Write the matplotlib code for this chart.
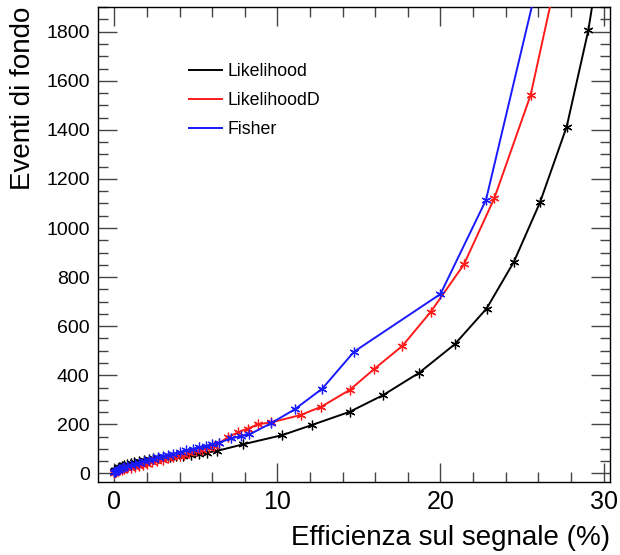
import matplotlib
matplotlib.use("Agg")
import matplotlib.pyplot as plt
from matplotlib.lines import Line2D
from matplotlib.ticker import MultipleLocator

# signal efficiency (%) vs background events
lik_eff = [0.0, 0.05, 0.1, 0.2, 0.3, 0.45, 0.6, 0.8, 1.0, 1.23, 1.5, 1.8, 2.1, 2.35, 2.7,
           3.0, 3.4, 3.8, 4.2, 4.71, 5.2, 5.7, 6.31, 7.92, 10.3, 12.1, 14.43, 16.48,
           18.69, 20.87, 22.83, 24.5, 26.1, 27.74, 29.07, 30.0]
lik_bkg = [8, 12, 16, 21, 26, 31, 35, 39, 43, 47, 51, 55, 58, 61, 63,
           65, 67, 70, 72, 75, 79, 85, 92, 119, 156, 197, 251, 319,
           410, 526, 672, 862, 1104, 1413, 1807, 2200]

likd_eff = [0.0, 0.05, 0.1, 0.2, 0.3, 0.45, 0.6, 0.8, 1.0, 1.25, 1.5, 1.75, 2.0, 2.3, 2.6,
            3.0, 3.3, 3.6, 4.0, 4.3, 4.6, 5.0, 5.4, 5.8, 6.1, 6.4, 7.0, 7.57, 8.19,
            8.8, 9.62, 11.43, 12.7, 14.45, 15.91, 17.67, 19.41, 21.44, 23.3, 25.53, 27.6]
likd_bkg = [2, 4, 6, 9, 12, 15, 18, 21, 24, 28, 32, 36, 40, 45, 50,
            56, 61, 66, 72, 77, 83, 90, 97, 105, 112, 122, 149, 167, 183,
            200, 208, 238, 272, 341, 424, 520, 659, 852, 1121, 1542, 2170]

fis_eff = [0.0, 0.05, 0.1, 0.2, 0.3, 0.45, 0.6, 0.8, 1.0, 1.25, 1.5, 1.8, 2.1, 2.4, 2.7,
           3.0, 3.3, 3.6, 4.0, 4.4, 4.8, 5.2, 5.6, 6.0, 6.45, 7.17, 7.78, 8.29, 9.6,
           11.06, 12.76, 14.7, 20.0, 22.79, 26.0]
fis_bkg = [4, 7, 10, 14, 18, 22, 26, 30, 34, 39, 44, 50, 55, 60, 65,
           70, 75, 80, 87, 94, 100, 106, 112, 119, 126, 143, 152, 159, 204,
           261, 346, 496, 731, 1114, 2014]

SERIES = [
    ("Likelihood", lik_eff, lik_bkg, "black"),
    ("LikelihoodD", likd_eff, likd_bkg, "#ff1a1a"),
    ("Fisher", fis_eff, fis_bkg, "#1a1aff"),
]


def main() -> None:
    plt.rcParams.update({"font.family": ["Liberation Sans", "DejaVu Sans"]})
    fig = plt.figure(figsize=(6.2, 5.55), dpi=100)
    ax = fig.add_axes([0.158, 0.1315, 0.826, 0.8565])

    handles = []
    for name, xs, ys, color in SERIES:
        ax.plot(xs, ys, color=color, linewidth=1.4, marker=(6, 2, 0),
                markersize=7, markeredgewidth=0.9, zorder=3)
        handles.append(Line2D([], [], color=color, linewidth=1.4, label=name))

    ax.set_xlim(-1.0, 30.4)
    ax.set_ylim(-35, 1902)

    ax.xaxis.set_major_locator(MultipleLocator(10))
    ax.xaxis.set_minor_locator(MultipleLocator(2))
    ax.yaxis.set_major_locator(MultipleLocator(200))
    ax.yaxis.set_minor_locator(MultipleLocator(50))
    ax.tick_params(which="both", direction="in", top=True, right=True,
                   color="#444444", width=1.0)
    ax.tick_params(axis="y", labelsize=14)
    ax.tick_params(axis="x", labelsize=18)
    ax.tick_params(which="major", length=14, pad=6)
    ax.tick_params(which="minor", length=7)
    for spine in ax.spines.values():
        spine.set_linewidth(1.0)

    ax.set_xlabel("Efficienza sul segnale (%)", fontsize=20, loc="right", labelpad=8)
    ax.set_ylabel("Eventi di fondo", fontsize=20, loc="top", labelpad=7)

    ax.legend(handles=handles, loc="upper left", bbox_to_anchor=(0.178, 0.882),
              frameon=False, fontsize=12.8, handlelength=1.85, handletextpad=0.33,
              labelspacing=0.68, borderpad=0, borderaxespad=0)

    fig.savefig("out.png", dpi=100)
    plt.close(fig)


if __name__ == "__main__":
    main()
